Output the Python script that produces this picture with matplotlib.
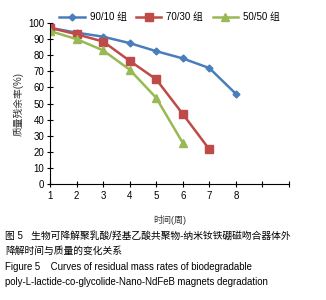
import matplotlib
matplotlib.use("Agg")
import matplotlib.pyplot as plt

plt.rcParams['font.family'] = ['Liberation Sans', 'Noto Sans CJK SC', 'DejaVu Sans']

weeks_a = [1, 2, 3, 4, 5, 6, 7, 8]
g90 = [97, 94, 91.5, 87.5, 82.5, 78, 72, 56]
weeks_b = [1, 2, 3, 4, 5, 6, 7]
g70 = [97, 93, 88.5, 76.5, 65, 43.5, 21.5]
weeks_c = [1, 2, 3, 4, 5, 6]
g50 = [95, 90, 83, 71, 53.5, 25.5]
series_labels = ["90/10 组", "70/30 组", "50/50 组"]
xtick_labels = ["1", "2", "3", "4", "5", "6", "7", "8", "", ""]
yticks = [0, 10, 20, 30, 40, 50, 60, 70, 80, 90, 100]

fig = plt.figure(figsize=(3.26, 3.0), dpi=100)
ax = fig.add_axes([50/326, 1-184/300, 239/326, 161/300])

ax.plot(weeks_a, g90, color='#4a7ebb', marker='D', markersize=3.5, lw=1.8, label=series_labels[0])
ax.plot(weeks_b, g70, color='#be4b48', marker='s', markersize=6, lw=1.8, label=series_labels[1])
ax.plot(weeks_c, g50, color='#98b954', marker='^', markersize=6, lw=1.8, label=series_labels[2])

ax.set_xlim(1, 10)
ax.set_ylim(0, 100)
ax.set_xticks(range(1, 11))
ax.set_xticklabels(xtick_labels)
ax.set_yticks(yticks)
for s in ['top', 'right']:
    ax.spines[s].set_visible(False)
ax.spines['left'].set_linewidth(0.8)
ax.spines['bottom'].set_linewidth(0.8)
ax.tick_params(axis='both', direction='inout', length=4, width=0.8, labelsize=7, pad=2, colors='black')
ax.tick_params(axis='x', pad=3)
ax.set_xlabel("时间(周)", fontsize=6.5, color='#333333', labelpad=10)
ax.set_ylabel("质量残余率(%)", fontsize=7, color='#333333', labelpad=3)

ax.legend(loc='upper center', bbox_to_anchor=(0.5, 1.12), ncol=3, frameon=False,
          fontsize=7, handlelength=2.6, columnspacing=1.0, handletextpad=0.5)

cap = ["图 5   生物可降解聚乳酸/羟基乙酸共聚物-纳米钕铁硼磁吻合器体外",
       "降解时间与质量的变化关系",
       "Figure 5    Curves of residual mass rates of biodegradable",
       "poly-L-lactide-co-glycolide-Nano-NdFeB magnets degradation"]
sizes = [7.05, 7.05, 6.9, 6.9]
ys = [236, 251, 267, 282]
for t, y, s in zip(cap, ys, sizes):
    fig.text(5/326, 1-y/300, t, fontsize=s, va='center', ha='left')

fig.savefig("out.png", dpi=100)
